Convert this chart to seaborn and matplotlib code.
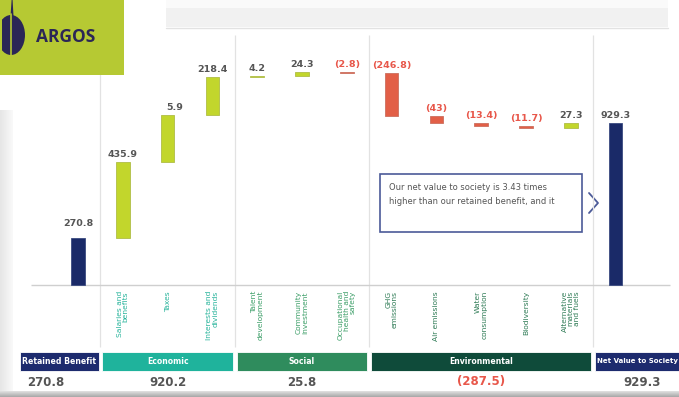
import numpy as np
import pandas as pd
import matplotlib
matplotlib.use("Agg")
import matplotlib.pyplot as plt
import seaborn as sns
from matplotlib.patches import Rectangle, Ellipse, Polygon

# ---------------- data ----------------
categories = ["Retained benefit", "Salaries and\nbenefits", "Taxes", "Interests and\ndividends",
              "Talent\ndevelopment", "Community\ninvestment", "Occupational\nhealth and\nsafety",
              "GHG\nemissions", "Air emissions", "Water\nconsumption", "Biodiversity",
              "Alternative\nmaterials\nand fuels", "Net value to society"]
values = [270.8, 435.9, 265.9, 218.4, 4.2, 24.3, -2.8, -246.8, -43.0, -13.4, -11.7, 27.3, 929.3]
value_labels = ["270.8", "435.9", "5.9", "218.4", "4.2", "24.3", "(2.8)", "(246.8)", "(43)",
                "(13.4)", "(11.7)", "27.3", "929.3"]
is_total = [True, False, False, False, False, False, False, False, False, False, False, False, True]
show_cat_label = [False] + [True] * 11 + [False]
cat_group = ["ret", "eco", "eco", "eco", "soc", "soc", "soc", "env", "env", "env", "env", "env", "net"]

groups = ["Retained Benefit", "Economic", "Social", "Environmental", "Net Value to Society"]
group_totals = [270.8, 920.2, 25.8, -287.5, 929.3]
group_total_labels = ["270.8", "920.2", "25.8", "(287.5)", "929.3"]
group_edges = [-1.3, 0.5, 3.5, 6.5, 11.5, 13.7]

note_text = "Our net value to society is 3.43 times\nhigher than our retained benefit, and it"

# ---------------- colors ----------------
NAVY = "#1a2a68"
LIME = "#c2d62c"
RED = "#e25f47"
GRAY_TXT = "#555555"
RED_TXT = "#e8574a"
group_colors = ["#1d2b6e", "#1fb39c", "#2f8c5d", "#0f4b3a", "#1d2b6e"]
cat_text_colors = {"eco": "#25b39a", "soc": "#3a9d66", "env": "#2e7b55"}
NARROW = ["Liberation Sans Narrow", "DejaVu Sans"]

# ---------------- waterfall geometry ----------------
bottoms, heights, colors = [], [], []
running = 0.0
for v, tot in zip(values, is_total):
    if tot:
        bottoms.append(0.0); heights.append(v); colors.append(NAVY)
        running = v
    else:
        if v >= 0:
            bottoms.append(running); colors.append(LIME)
        else:
            bottoms.append(running + v); colors.append(RED)
        heights.append(abs(v))
        running += v
df = pd.DataFrame({"category": categories, "height": heights, "bottom": bottoms})

# pixel mapping helpers
X0, DX = 78.0, 44.8          # pixel x of first bar, spacing
Y0, SY = 285.0, 0.1745       # baseline pixel y, pixel per unit
W, H = 679, 397

def py2d(p):
    return (Y0 - p) / SY

def px2d(p):
    return (p - X0) / DX

sns.set_theme(style="white")
plt.rcParams["font.family"] = ["DejaVu Sans"]

fig = plt.figure(figsize=(W / 100, H / 100), dpi=100)
fig.patch.set_facecolor("white")

# background decoration axes (pixel coords)
bg = fig.add_axes([0, 0, 1, 1], zorder=0)
bg.set_xlim(0, W); bg.set_ylim(H, 0); bg.axis("off")

# left shadow
grad = np.linspace(0.90, 0.975, 20).reshape(1, -1)
bg.imshow(np.repeat(grad, 2, axis=0), extent=(0, 13, H, 110), cmap="gray", vmin=0, vmax=1,
          aspect="auto", zorder=0)
# bottom band
gradv = np.linspace(0.88, 0.66, 20).reshape(-1, 1)
bg.imshow(gradv, extent=(0, W, H, 391), cmap="gray", vmin=0, vmax=1, aspect="auto", zorder=0)
bg.set_xlim(0, W); bg.set_ylim(H, 0)
# top header strip
bg.add_patch(Rectangle((166, 0), 502, 8, color="#fafafa", lw=0))
bg.add_patch(Rectangle((166, 8), 502, 19, color="#f1f1f1", lw=0))
bg.plot([166, 668], [27.5, 27.5], color="#e2e2e2", lw=1)

# note box + chevron
bg.add_patch(Rectangle((380, 174), 202, 58, facecolor="white", edgecolor="#4b5a98", lw=1.2))
bg.text(389, 183, note_text, fontsize=6, color="#555555", va="top", ha="left",
        linespacing=1.75, family=NARROW)
bg.plot([589, 598, 589], [193, 203, 213], color="#4b5a98", lw=1.3)

# main data axes
ax = fig.add_axes([0, 0, 1, 1], zorder=1)
ax.patch.set_alpha(0)
sns.barplot(data=df, x="category", y="height", order=categories, bottom=df["bottom"].to_numpy(),
            width=0.3, errorbar=None, ax=ax, color=LIME, linewidth=0.6)
for p, c in zip(ax.patches, colors):
    p.set_facecolor(c)
    p.set_edgecolor(sns.desaturate(c, 0.7) if c != NAVY else "#3a4a80")

ax.set_xlim(px2d(0), px2d(W))
ax.set_ylim(py2d(H), py2d(0))
ax.axis("off")

# separators and baseline
for e in group_edges[1:-1]:
    ax.vlines(e, py2d(347), py2d(35), color="#e2e2e2", lw=0.9, zorder=0)
ax.hlines(0, px2d(31), px2d(670), color="#cfcfcf", lw=1.0, zorder=0)

# value labels
for i, (b, h, lab, v) in enumerate(zip(bottoms, heights, value_labels, values)):
    top = b + h
    dx = 0.15 if lab == "5.9" else 0.0
    dy = 7.0 if i == 0 else 2.2
    ax.annotate(lab, (i + dx, top), xytext=(0, dy), textcoords="offset points",
                ha="center", va="bottom", fontsize=6.8, fontweight="bold",
                color=RED_TXT if v < 0 else GRAY_TXT)

# category labels
for i, (lab, show, g) in enumerate(zip(categories, show_cat_label, cat_group)):
    if show:
        ax.text(i, py2d(291), lab, rotation=90, ha="center", va="top", multialignment="right",
                fontsize=5.4, color=cat_text_colors[g], family=NARROW, linespacing=1.0)

# bottom group boxes and totals
for k, (name, col, tl, tv) in enumerate(zip(groups, group_colors, group_total_labels, group_totals)):
    x0 = group_edges[k] + (0.04 if k > 0 else 0)
    x1 = group_edges[k + 1] - 0.04
    ax.add_patch(Rectangle((x0, py2d(371)), x1 - x0, py2d(352) - py2d(371), facecolor=col,
                           edgecolor="white", lw=0.6, clip_on=False, zorder=2))
    if k == len(groups) - 1:
        ax.text(x0 + 0.05, py2d(361.5), name, ha="left", va="center", fontsize=5.0,
                fontweight="bold", color="white", family=NARROW, zorder=3)
        cx = (x0 + px2d(690)) / 2
    else:
        ax.text((x0 + x1) / 2, py2d(361.5), name, ha="center", va="center", fontsize=5.6,
                fontweight="bold", color="white", family=NARROW, zorder=3)
        cx = (x0 + x1) / 2
    ax.text(cx - (0.3 if k == 0 else 0), py2d(382), tl, ha="center", va="center", fontsize=8.5,
            fontweight="bold", color=RED_TXT if tv < 0 else GRAY_TXT)

# logo
lg = fig.add_axes([0, 0, 1, 1], zorder=3)
lg.set_xlim(0, W); lg.set_ylim(H, 0); lg.axis("off")
lg.patch.set_alpha(0)
lg.add_patch(Rectangle((0, 0), 124, 75, color="#b6c933", lw=0))
lg.add_patch(Ellipse((11, 35), 28, 40, color="#2b2656", lw=0))
lg.add_patch(Rectangle((0, 0), 1.5, 75, color="#b6c933", lw=0))
lg.plot([11.2, 11.2], [14, 56], color="#b6c933", lw=1.2)
lg.add_patch(Polygon([(10.5, 16), (11.6, 0), (12.6, 0), (13.5, 16)], color="#2b2656", lw=0))
lg.text(36, 37, "ARGOS", fontsize=12.5, fontweight="bold", color="#2b2656", va="center",
        ha="left", family=["Open Sans", "DejaVu Sans"])

fig.savefig("out.png", dpi=100)
